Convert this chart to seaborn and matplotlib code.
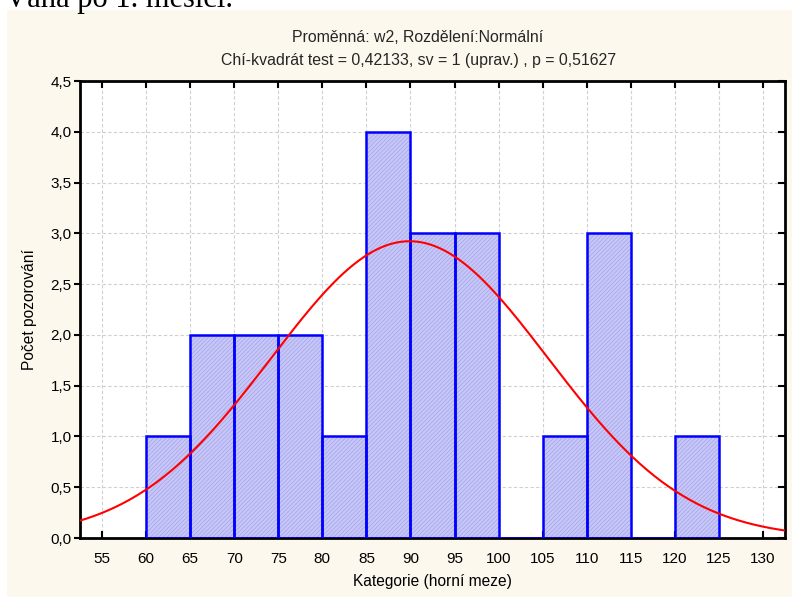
import numpy as np
import pandas as pd
import matplotlib
matplotlib.use("Agg")
import matplotlib.pyplot as plt
import matplotlib.lines as mlines
import seaborn as sns
from matplotlib.patches import Rectangle
from matplotlib.ticker import FuncFormatter

# ---- data ----
bin_edges = [60, 65, 70, 75, 80, 85, 90, 95, 100, 105, 110, 115, 120, 125]
counts = [1, 2, 2, 2, 1, 4, 3, 3, 0, 1, 3, 0, 1]
fit_mean = 89.9
fit_sd = 15.7
x_ticks = [55, 60, 65, 70, 75, 80, 85, 90, 95, 100, 105, 110, 115, 120, 125, 130]
y_ticks = [0.0, 0.5, 1.0, 1.5, 2.0, 2.5, 3.0, 3.5, 4.0, 4.5]
title1 = "Proměnná: w2, Rozdělení:Normální"
title2 = "Chí-kvadrát test = 0,42133, sv = 1 (uprav.) , p = 0,51627"
xlabel = "Kategorie (horní meze)"
ylabel = "Počet pozorování"
doc_text = "Váha po 1. měsíci."

sns.set_theme(style="white")
plt.rcParams['font.family'] = ['Liberation Sans', 'DejaVu Sans']
plt.rcParams['hatch.linewidth'] = 0.6

W, H = 792, 597
fig = plt.figure(figsize=(W / 100, H / 100), dpi=100, facecolor="white")

# cream panel
fig.patches.append(Rectangle((7 / W, 0), 1 - 7 / W, 1 - 10 / H, transform=fig.transFigure,
                             facecolor="#fdf8ee", edgecolor="none", zorder=-5))
fig.text(5 / W, 1 - 7 / H, doc_text, family=['Liberation Serif'], fontsize=22,
         va="baseline", ha="left", color="black")

ax = fig.add_axes([80 / W, 1 - 538 / H, (785 - 80) / W, (538 - 81) / H])
ax.set_facecolor("white")
ax.set_zorder(1)

centers = [(a + b) / 2 for a, b in zip(bin_edges[:-1], bin_edges[1:])]
df = pd.DataFrame({"x": centers, "w": [float(c) for c in counts]})
bw = bin_edges[1] - bin_edges[0]
brange = (bin_edges[0], bin_edges[-1])

# hatched fill
sns.histplot(data=df, x="x", weights="w", binwidth=bw, binrange=brange, ax=ax,
             stat="count", element="bars", fill=True, facecolor="#c8c8f8",
             edgecolor="#a8a8ee", linewidth=0, hatch="////////", alpha=1, zorder=2)
# outlines
sns.histplot(data=df, x="x", weights="w", binwidth=bw, binrange=brange, ax=ax,
             stat="count", element="bars", fill=False, color="#0000ff",
             linewidth=1.8, zorder=3)

# normal fit curve
xs = np.linspace(52.5, 132.5, 400)
n = sum(counts)
ys = n * bw / (fit_sd * np.sqrt(2 * np.pi)) * np.exp(-0.5 * ((xs - fit_mean) / fit_sd) ** 2)
sns.lineplot(x=xs, y=ys, ax=ax, color="#ff0000", linewidth=1.5, zorder=4)

ax.set_xlim(52.5, 132.5)
ax.set_ylim(0, 4.5)
ax.set_xticks(x_ticks)
ax.set_yticks(y_ticks)
ax.yaxis.set_major_formatter(FuncFormatter(lambda v, p: f"{v:.1f}".replace(".", ",")))
ax.grid(True, color="#d0d0d0", linestyle=(0, (3, 2)), linewidth=0.8, zorder=0)
ax.set_axisbelow(True)

for s in ax.spines.values():
    s.set_visible(True)
    s.set_color("black")
    s.set_linewidth(2)

ax.tick_params(axis="x", which="major", direction="in", length=5, width=1.5,
               top=True, bottom=True, labelsize=11, pad=10, colors="black")
ax.tick_params(axis="y", which="major", direction="out", length=4, width=1.5,
               left=True, right=True, labelsize=11, pad=2, colors="black")
# right ticks inward
for line in ax.yaxis.get_majorticklines()[1::2]:
    line.set_marker(mlines.TICKLEFT)
    line.set_markersize(5)

ax.set_xlabel(xlabel, fontsize=11.2, labelpad=6, color="black")
ax.set_ylabel(ylabel, fontsize=11.2, labelpad=10, color="black")

fig.text(418 / W, 1 - 38 / H, title1, ha="center", va="center", fontsize=11.4)
fig.text(419 / W, 1 - 61 / H, title2, ha="center", va="center", fontsize=11.4)

fig.savefig("out.png", dpi=100, facecolor="white")
